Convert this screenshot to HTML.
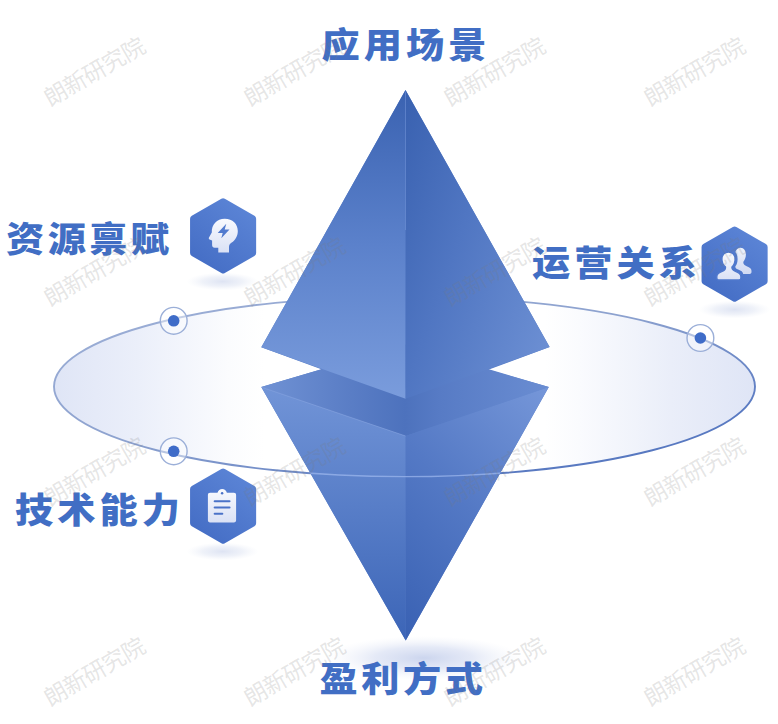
<!DOCTYPE html>
<html lang="zh-CN">
<head>
<meta charset="utf-8">
<title>商业模式要素</title>
<style>
html,body{margin:0;padding:0;background:#fff;}
body{width:778px;height:724px;overflow:hidden;position:relative;font-family:"Liberation Sans","Noto Sans CJK SC",sans-serif;}
svg{position:absolute;left:0;top:0;display:block;}
.lbl{font-family:"Liberation Sans","Noto Sans CJK SC",sans-serif;font-weight:900;font-size:36px;fill:#416ec4;}
.wm{font-family:"Liberation Sans","Noto Sans CJK SC",sans-serif;font-weight:400;font-size:23px;letter-spacing:-0.6px;fill:#7a7a7a;fill-opacity:0.2;}
</style>
</head>
<body>
<svg width="778" height="724" viewBox="0 0 778 724">
<defs>
  <linearGradient id="ellFill" x1="0" y1="0" x2="1" y2="0">
    <stop offset="0" stop-color="#dfe5f6"/>
    <stop offset="0.12" stop-color="#ebeffa"/>
    <stop offset="0.25" stop-color="#fbfcfe"/>
    <stop offset="0.30" stop-color="#ffffff"/>
    <stop offset="0.70" stop-color="#ffffff"/>
    <stop offset="0.75" stop-color="#fafbfe"/>
    <stop offset="0.88" stop-color="#eaeef9"/>
    <stop offset="1" stop-color="#dfe5f6"/>
  </linearGradient>
  <linearGradient id="ellStroke" x1="0" y1="0" x2="1" y2="1">
    <stop offset="0" stop-color="#9eb0d7"/>
    <stop offset="0.45" stop-color="#8da2cf"/>
    <stop offset="0.8" stop-color="#5b7bc2"/>
    <stop offset="1" stop-color="#4f72bd"/>
  </linearGradient>
  <linearGradient id="upL" gradientUnits="userSpaceOnUse" x1="0" y1="90" x2="0" y2="398">
    <stop offset="0" stop-color="#3a62b1"/>
    <stop offset="0.5" stop-color="#5b81cb"/>
    <stop offset="1" stop-color="#7a9cdc"/>
  </linearGradient>
  <linearGradient id="upR" gradientUnits="userSpaceOnUse" x1="405.5" y1="90" x2="614.1" y2="163">
    <stop offset="0" stop-color="#3961b0"/>
    <stop offset="0.45" stop-color="#5076c2"/>
    <stop offset="1" stop-color="#6c8fd3"/>
  </linearGradient>
  <linearGradient id="loL" gradientUnits="userSpaceOnUse" x1="0" y1="387" x2="0" y2="640">
    <stop offset="0" stop-color="#7194d7"/>
    <stop offset="1" stop-color="#3c65b7"/>
  </linearGradient>
  <linearGradient id="loR" gradientUnits="userSpaceOnUse" x1="548.8" y1="387.1" x2="350.5" y2="585.4">
    <stop offset="0" stop-color="#7697d9"/>
    <stop offset="0.5" stop-color="#5479c5"/>
    <stop offset="1" stop-color="#3961b3"/>
  </linearGradient>
  <linearGradient id="topF" gradientUnits="userSpaceOnUse" x1="261" y1="0" x2="549" y2="0">
    <stop offset="0" stop-color="#7092d4"/>
    <stop offset="0.25" stop-color="#5e81c8"/>
    <stop offset="0.5" stop-color="#4d72bd"/>
    <stop offset="0.62" stop-color="#577bc5"/>
    <stop offset="1" stop-color="#6a8dd2"/>
  </linearGradient>
  <linearGradient id="hexG" x1="0.85" y1="0" x2="0.15" y2="1">
    <stop offset="0" stop-color="#5d86d7"/>
    <stop offset="1" stop-color="#436cc4"/>
  </linearGradient>
  <linearGradient id="icoG" x1="0" y1="0" x2="0" y2="1">
    <stop offset="0" stop-color="#f9fafe"/>
    <stop offset="1" stop-color="#dae1f5"/>
  </linearGradient>
  <radialGradient id="shad" cx="0.5" cy="0.5" r="0.5">
    <stop offset="0" stop-color="#dce2f2" stop-opacity="0.95"/>
    <stop offset="0.55" stop-color="#e4e9f5" stop-opacity="0.6"/>
    <stop offset="1" stop-color="#eef1f9" stop-opacity="0"/>
  </radialGradient>
  <radialGradient id="shadB" cx="0.5" cy="0.5" r="0.5">
    <stop offset="0" stop-color="#c9d3ed" stop-opacity="0.95"/>
    <stop offset="0.5" stop-color="#d9e0f3" stop-opacity="0.7"/>
    <stop offset="1" stop-color="#eef1f9" stop-opacity="0"/>
  </radialGradient>
  <clipPath id="pyrClip"><polygon points="261.3,387.1 405.6,436 548.8,387.1 405.7,640.6"/></clipPath>
</defs>

<!-- orbit ellipse -->
<ellipse cx="404.5" cy="386.6" rx="350.5" ry="90" fill="url(#ellFill)" stroke="url(#ellStroke)" stroke-width="1.9"/>

<!-- soft shadows -->
<ellipse cx="222.6" cy="281.5" rx="36" ry="9" fill="url(#shad)"/>
<ellipse cx="734.6" cy="309.5" rx="36" ry="9" fill="url(#shad)"/>
<ellipse cx="222.6" cy="551.5" rx="36" ry="9" fill="url(#shad)"/>
<ellipse cx="424" cy="658" rx="98" ry="22" fill="url(#shadB)"/>

<!-- double pyramid -->
<polygon points="405.5,90 549.6,347 488.3,369.7 548.8,387.1 405.7,640.6 261.3,387.1 321.4,369.3 261.3,347.3" fill="#5a7fc8"/>
<polygon points="261.3,387.1 405.5,344.4 548.8,387.1 405.6,436" fill="url(#topF)"/>
<polygon points="261.3,387.1 405.6,436 405.7,640.6" fill="url(#loL)"/>
<polygon points="548.8,387.1 405.6,436 405.7,640.6" fill="url(#loR)"/>
<polygon points="405.5,90 261.3,347.3 405.6,398.8" fill="url(#upL)"/>
<polygon points="405.5,90 549.6,347 405.6,398.8" fill="url(#upR)"/>
<!-- subtle edge highlights -->
<line x1="405.5" y1="92" x2="405.5" y2="230" stroke="#86a6e6" stroke-opacity="0.45" stroke-width="0.8"/>
<line x1="262" y1="387.4" x2="405.6" y2="436" stroke="#8eaae4" stroke-opacity="0.5" stroke-width="1"/>

<!-- orbit line seen through the lower pyramid -->
<ellipse cx="404.5" cy="386.6" rx="350.5" ry="90" fill="none" stroke="#9bb6ec" stroke-opacity="0.75" stroke-width="1.4" clip-path="url(#pyrClip)"/>

<!-- orbit nodes -->
<g>
  <circle cx="173.7" cy="320.8" r="13.4" fill="#ffffff" fill-opacity="0.42" stroke="#9bafd8" stroke-width="1.4"/>
  <circle cx="173.7" cy="320.8" r="5.8" fill="#3f6cc8"/>
  <circle cx="173.7" cy="451.3" r="13.4" fill="#ffffff" fill-opacity="0.42" stroke="#9bafd8" stroke-width="1.4"/>
  <circle cx="173.7" cy="451.3" r="5.8" fill="#3f6cc8"/>
  <circle cx="700.4" cy="338" r="13.4" fill="#ffffff" fill-opacity="0.42" stroke="#9bafd8" stroke-width="1.4"/>
  <circle cx="700.4" cy="338" r="5.8" fill="#3f6cc8"/>
</g>

<!-- hexagon badges -->
<g transform="translate(223.1,235.9)">
  <path d="M-1.73,-37.15 Q0.00,-38.15 1.73,-37.15 L31.31,-20.08 Q33.04,-19.08 33.04,-17.08 L33.04,17.07 Q33.04,19.07 31.31,20.07 L1.73,37.15 Q0.00,38.15 -1.73,37.15 L-31.31,20.08 Q-33.04,19.08 -33.04,17.08 L-33.04,-17.08 Q-33.04,-19.08 -31.31,-20.08 Z" fill="url(#hexG)"/>
  <!-- head with lightning bolt -->
  <path fill="url(#icoG)" fill-rule="evenodd" d="M1.6,-17.2 C9.6,-17.2 14.7,-11.8 14.7,-5 C14.7,0.2 12.2,4.2 8.6,6.6 C6.6,8 5.9,9.2 5.9,11 L5.9,16.6 L-4.8,16.6 L-4.8,11.8 L-8.4,11.8 C-10.2,11.8 -11,10.8 -11,9.2 L-11,4.6 L-13.6,3.5 C-14.4,3.1 -14.5,2.3 -14.1,1.6 L-11.3,-3.4 C-11.7,-11.4 -6.2,-17.2 1.6,-17.2 Z M3.2,-12.2 L-5.4,-3 L-0.4,-3 L-1.8,2.4 L6.4,-6.4 L1.6,-6.4 Z"/>
</g>
<g transform="translate(734.6,264.1)">
  <path d="M-1.73,-37.15 Q0.00,-38.15 1.73,-37.15 L31.31,-20.08 Q33.04,-19.08 33.04,-17.08 L33.04,17.07 Q33.04,19.07 31.31,20.07 L1.73,37.15 Q0.00,38.15 -1.73,37.15 L-31.31,20.08 Q-33.04,19.08 -33.04,17.08 L-33.04,-17.08 Q-33.04,-19.08 -31.31,-20.08 Z" fill="url(#hexG)"/>
  <!-- two people -->
  <path fill="url(#icoG)" fill-opacity="0.93" d="M5.9,-16.4 C9.4,-16.4 11.3,-13.4 11.3,-9.6 C11.3,-6.6 10.2,-4 8.8,-2.4 C8.4,-0.2 9.4,1 11.6,2 L14.2,3.2 C16,4 16.9,5 16.9,7 L16.9,8 C16.9,9.2 16.3,9.8 15.1,9.8 L8.6,9.8 C8.2,7.6 6.6,6.6 3.6,5.4 C1.6,4.6 0.6,3.8 0.8,2.2 C2.2,0.4 3,-2 3,-5.2 C3,-8 2.2,-10.4 0.8,-12 C1.6,-14.6 3.4,-16.4 5.9,-16.4 Z"/>
  <path fill="url(#icoG)" stroke="#4f78cd" stroke-width="1.4" d="M-6.1,-12.1 C-1.9,-12.1 0.5,-8.8 0.5,-4.8 C0.5,-1.6 -0.8,1.2 -2.6,2.8 C-3,5 -1.8,6.2 0.8,7.2 C4.2,8.4 6.3,9.8 6.3,12.6 L6.3,14 C6.3,15.2 5.6,15.9 4.4,15.9 L-15.9,15.9 C-17.1,15.9 -17.8,15.2 -17.8,14 L-17.8,12.6 C-17.8,9.8 -15.7,8.4 -12.4,7.2 C-9.8,6.2 -8.8,5 -9.2,2.8 C-11.2,1.2 -12.7,-1.6 -12.7,-4.8 C-12.7,-8.8 -10.3,-12.1 -6.1,-12.1 Z"/>
</g>
<g transform="translate(223.1,506.2)">
  <path d="M-1.73,-37.15 Q0.00,-38.15 1.73,-37.15 L31.31,-20.08 Q33.04,-19.08 33.04,-17.08 L33.04,17.07 Q33.04,19.07 31.31,20.07 L1.73,37.15 Q0.00,38.15 -1.73,37.15 L-31.31,20.08 Q-33.04,19.08 -33.04,17.08 L-33.04,-17.08 Q-33.04,-19.08 -31.31,-20.08 Z" fill="url(#hexG)"/>
  <!-- clipboard -->
  <path fill="url(#icoG)" d="M-13,-13.4 L-5.6,-13.4 C-5,-15.8 -3,-17.2 -0.9,-17.2 C1.2,-17.2 3.2,-15.8 3.8,-13.4 L10.8,-13.4 C12.2,-13.4 13,-12.6 13,-11.2 L13,14 C13,15.4 12.2,16.2 10.8,16.2 L-13,16.2 C-14.4,16.2 -15.2,15.4 -15.2,14 L-15.2,-11.2 C-15.2,-12.6 -14.4,-13.4 -13,-13.4 Z"/>
  <circle cx="-1" cy="-12.9" r="1.25" fill="#4a72c8"/>
  <g stroke="#4a72c8" stroke-width="2.1" stroke-linecap="round">
    <line x1="-8.4" y1="-5" x2="6.4" y2="-5"/>
    <line x1="-8.4" y1="1.3" x2="6.4" y2="1.3"/>
    <line x1="-8.4" y1="7.6" x2="-0.8" y2="7.6"/>
  </g>
</g>

<!-- labels -->
<g transform="translate(321.5,57.5) scale(1.06,0.965)"><text class="lbl" x="0" y="0" style="letter-spacing:3.9px">应用场景</text></g>
<g transform="translate(319.5,692) scale(1.06,0.965)"><text class="lbl" x="0" y="0" style="letter-spacing:3.4px">盈利方式</text></g>
<g transform="translate(6,251.5) scale(1.06,0.965)"><text class="lbl" x="0" y="0" style="letter-spacing:3.3px">资源禀赋</text></g>
<g transform="translate(15,522.5) scale(1.06,0.965)"><text class="lbl" x="0" y="0" style="letter-spacing:3.9px">技术能力</text></g>
<g transform="translate(532,275.5) scale(1.06,0.965)"><text class="lbl" x="0" y="0" style="letter-spacing:3.9px">运营关系</text></g>

<!-- watermark -->
<g>
  <text class="wm" text-anchor="middle" transform="translate(94.4,72) rotate(-30)" x="0" y="8">朗新研究院</text>
  <text class="wm" text-anchor="middle" transform="translate(294.4,72) rotate(-30)" x="0" y="8">朗新研究院</text>
  <text class="wm" text-anchor="middle" transform="translate(494.4,72) rotate(-30)" x="0" y="8">朗新研究院</text>
  <text class="wm" text-anchor="middle" transform="translate(694.4,72) rotate(-30)" x="0" y="8">朗新研究院</text>
  <text class="wm" text-anchor="middle" transform="translate(94.4,272) rotate(-30)" x="0" y="8">朗新研究院</text>
  <text class="wm" text-anchor="middle" transform="translate(294.4,272) rotate(-30)" x="0" y="8">朗新研究院</text>
  <text class="wm" text-anchor="middle" transform="translate(494.4,272) rotate(-30)" x="0" y="8">朗新研究院</text>
  <text class="wm" text-anchor="middle" transform="translate(694.4,272) rotate(-30)" x="0" y="8">朗新研究院</text>
  <text class="wm" text-anchor="middle" transform="translate(94.4,472) rotate(-30)" x="0" y="8">朗新研究院</text>
  <text class="wm" text-anchor="middle" transform="translate(294.4,472) rotate(-30)" x="0" y="8">朗新研究院</text>
  <text class="wm" text-anchor="middle" transform="translate(494.4,472) rotate(-30)" x="0" y="8">朗新研究院</text>
  <text class="wm" text-anchor="middle" transform="translate(694.4,472) rotate(-30)" x="0" y="8">朗新研究院</text>
  <text class="wm" text-anchor="middle" transform="translate(94.4,672) rotate(-30)" x="0" y="8">朗新研究院</text>
  <text class="wm" text-anchor="middle" transform="translate(294.4,672) rotate(-30)" x="0" y="8">朗新研究院</text>
  <text class="wm" text-anchor="middle" transform="translate(494.4,672) rotate(-30)" x="0" y="8">朗新研究院</text>
  <text class="wm" text-anchor="middle" transform="translate(694.4,672) rotate(-30)" x="0" y="8">朗新研究院</text>
</g>
</svg>
</body>
</html>
